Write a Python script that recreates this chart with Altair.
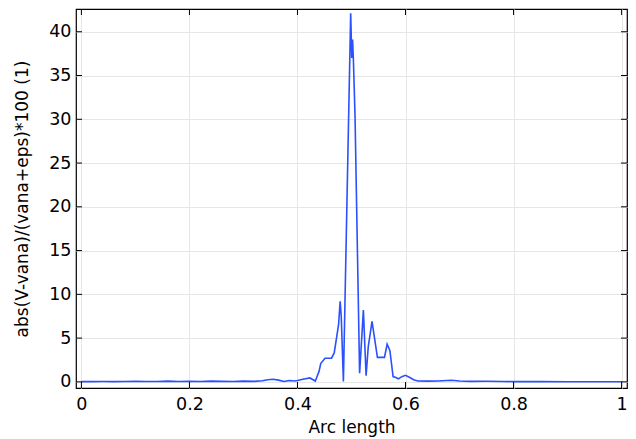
import altair as alt
import pandas as pd

# Curve samples (arc length, relative error in %)
arc = [0.0, 0.02, 0.04, 0.06, 0.08, 0.10, 0.12, 0.14, 0.16, 0.18, 0.20, 0.22, 0.24, 0.26,
       0.28, 0.30, 0.32, 0.335, 0.345, 0.355, 0.365, 0.375, 0.385, 0.395, 0.40, 0.41,
       0.423, 0.433, 0.44, 0.443, 0.451, 0.463, 0.468, 0.476, 0.479, 0.481, 0.485,
       0.4985, 0.5005, 0.502, 0.5035, 0.5065, 0.515, 0.522, 0.527, 0.531, 0.538,
       0.548, 0.561, 0.566, 0.571, 0.577, 0.582, 0.587, 0.593, 0.600, 0.608, 0.615,
       0.623, 0.64, 0.66, 0.685, 0.70, 0.72, 0.75, 0.78, 0.80, 0.85, 0.90, 0.95, 1.0]
err = [0.03, 0.03, 0.04, 0.03, 0.04, 0.06, 0.05, 0.04, 0.08, 0.05, 0.06, 0.05, 0.08, 0.06,
       0.05, 0.08, 0.06, 0.12, 0.25, 0.3, 0.2, 0.05, 0.15, 0.1, 0.15, 0.3,
       0.45, 0.1, 1.2, 2.1, 2.7, 2.7, 3.3, 6.5, 9.2, 7.5, 0.05,
       42.1, 37.0, 39.1, 36.8, 30.5, 1.0, 8.2, 0.7, 4.0, 6.9,
       2.8, 2.8, 4.3, 3.6, 0.6, 0.5, 0.35, 0.6, 0.75, 0.5, 0.25,
       0.1, 0.08, 0.1, 0.18, 0.1, 0.06, 0.07, 0.04, 0.03, 0.03, 0.02, 0.02, 0.02]

x_ticks = [0, 0.2, 0.4, 0.6, 0.8, 1.0]
y_ticks = [0, 5, 10, 15, 20, 25, 30, 35, 40]

W, H = 551, 379
FONT = "DejaVu Sans"
BLUE = "#2a50ff"

df = pd.DataFrame({"arc": arc, "err": err})
xt = pd.DataFrame({"t": x_ticks})
yt = pd.DataFrame({"t": y_ticks})

xscale = alt.Scale(domain=[-0.01, 1.01], nice=False, zero=False)
yscale = alt.Scale(domain=[-0.7, 42.6], nice=False, zero=False)

line = alt.Chart(df).mark_line(color=BLUE, strokeWidth=1.6).encode(
    x=alt.X("arc:Q", scale=xscale,
            axis=alt.Axis(title="Arc length", values=x_ticks, format="~g", grid=True,
                          ticks=False, domain=False, labelPadding=7, titlePadding=7)),
    y=alt.Y("err:Q", scale=yscale,
            axis=alt.Axis(title="abs(V-vana)/(vana+eps)*100 (1)", values=y_ticks, grid=True,
                          ticks=False, domain=False, labelPadding=5, titlePadding=17)),
)

tick_style = dict(color="black", strokeWidth=1)
bottom = alt.Chart(xt).mark_rule(**tick_style).encode(
    x=alt.X("t:Q", scale=xscale), y=alt.value(H), y2=alt.value(H - 6))
top = alt.Chart(xt).mark_rule(**tick_style).encode(
    x=alt.X("t:Q", scale=xscale), y=alt.value(0), y2=alt.value(6))
left = alt.Chart(yt).mark_rule(**tick_style).encode(
    y=alt.Y("t:Q", scale=yscale), x=alt.value(0), x2=alt.value(6))
right = alt.Chart(yt).mark_rule(**tick_style).encode(
    y=alt.Y("t:Q", scale=yscale), x=alt.value(W), x2=alt.value(W - 6))

chart = alt.layer(line, bottom, top, left, right).properties(
    width=W, height=H,
    autosize=alt.AutoSizeParams(type="none"),
    padding={"left": 68, "top": 1, "right": 1, "bottom": 51},
).configure_view(stroke="black", strokeWidth=1.2).configure_axis(
    labelFont=FONT, titleFont=FONT, labelFontSize=17.5, titleFontSize=17,
    labelColor="black", titleColor="black", titleFontWeight="normal",
    gridColor="#e6e6e6", gridWidth=1,
)

chart.save("out.html", embed_options={"renderer": "svg", "actions": False})
